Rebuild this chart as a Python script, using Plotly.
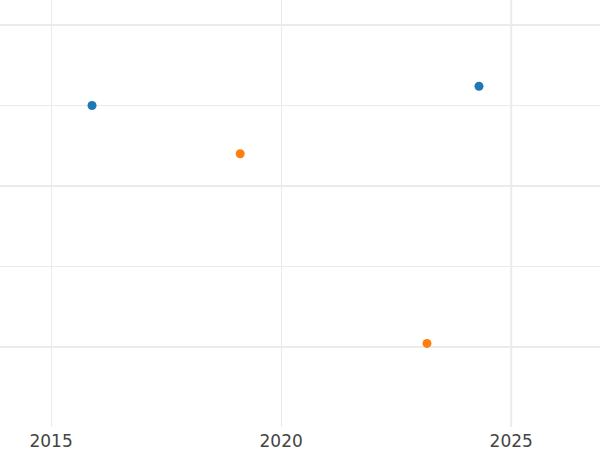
import plotly.graph_objects as go

# data
blue_x = [2015.89, 2024.30]
blue_y = [3.00, 3.24]
orange_x = [2019.11, 2023.17]
orange_y = [2.40, 0.04]

x_ticks = [2015, 2020, 2025]
x_tick_labels = ["2015", "2020", "2025"]
ref_line_x = 2025

fig = go.Figure()
fig.add_trace(go.Scatter(x=blue_x, y=blue_y, mode="markers",
                         marker=dict(color="#1f77b4", size=9), showlegend=False))
fig.add_trace(go.Scatter(x=orange_x, y=orange_y, mode="markers",
                         marker=dict(color="#ff7f0e", size=9), showlegend=False))

grid = "#ebebeb"
fig.add_shape(type="line", xref="x", yref="paper", x0=ref_line_x, x1=ref_line_x,
              y0=0, y1=1, line=dict(color=grid, width=2), layer="below")

fig.update_layout(
    width=600, height=450,
    margin=dict(l=0, r=0, t=0, b=23),
    paper_bgcolor="white", plot_bgcolor="white",
    font=dict(family="DejaVu Sans", size=17, color="#444"),
    xaxis=dict(range=[2013.89, 2026.93], tickvals=x_ticks, ticktext=x_tick_labels,
               showgrid=True, gridcolor=grid, gridwidth=1, zeroline=False,
               showline=False, ticks="", ticklabelstandoff=2),
    yaxis=dict(range=[-1.0, 4.3124], dtick=2, tick0=0, showgrid=True, gridcolor=grid,
               gridwidth=2, zeroline=False, showticklabels=False, ticks="",
               minor=dict(dtick=1, showgrid=True, gridcolor=grid, gridwidth=1)),
)

fig.write_html("out.html", config={"displayModeBar": False},
               post_script="document.body.style.margin='0';document.body.style.overflow='hidden';")
